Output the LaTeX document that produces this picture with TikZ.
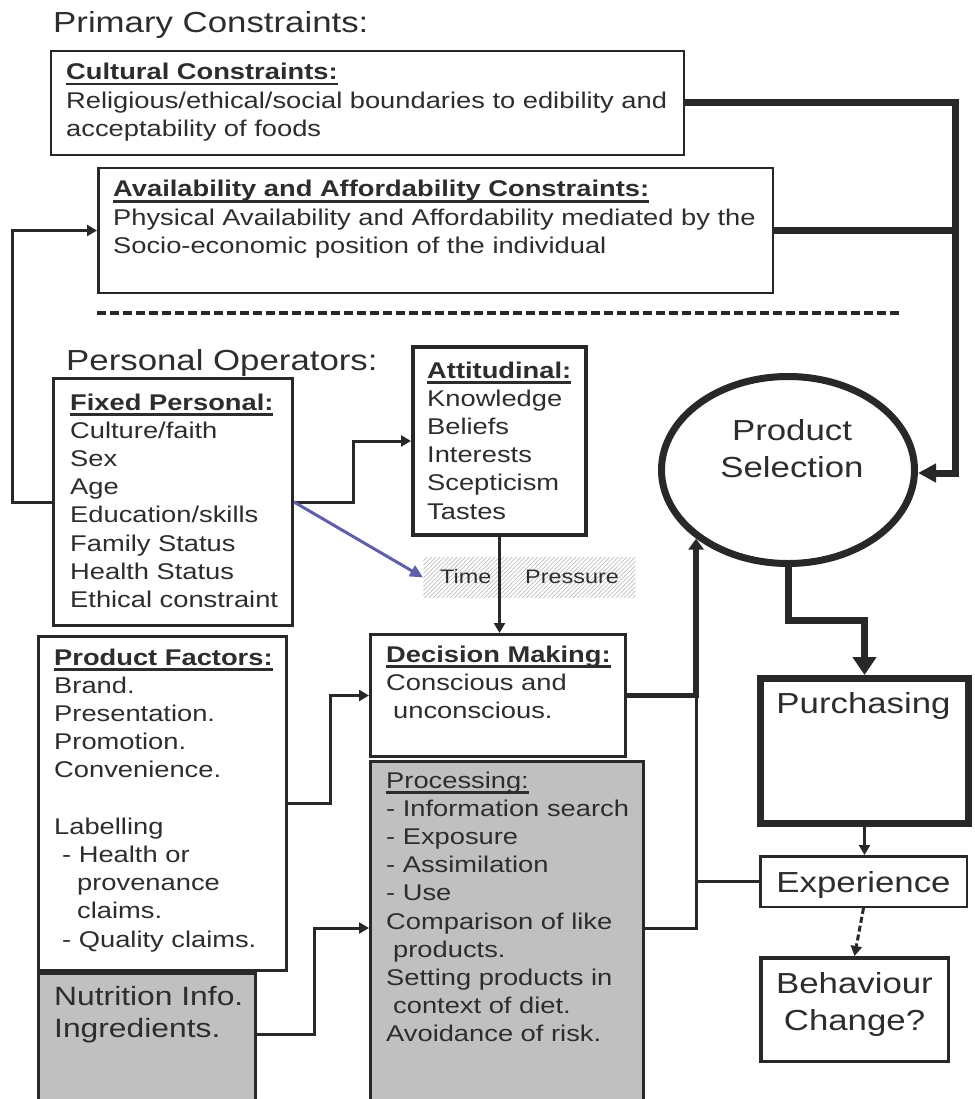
\documentclass[tikz,border=0pt]{standalone}
\usepackage{fontspec}
\setmainfont{Liberation Sans}[FakeStretch=1.2]
\usetikzlibrary{arrows.meta,patterns.meta,shapes.geometric}
\definecolor{ink}{RGB}{40,40,40}
\definecolor{txtc}{RGB}{45,45,45}
\definecolor{procgray}{RGB}{192,192,192}
\definecolor{blueline}{RGB}{96,96,170}
\newcommand\bodyfs{\fontsize{22.75}{28.2}\selectfont}
\newcommand\bigfs{\fontsize{29}{37}\selectfont}
\newcommand\nutfs{\fontsize{26.5}{32}\selectfont}
\newcommand\tpfs{\fontsize{19.5}{24}\selectfont}
\newcommand\myul[1]{\setbox0=\hbox{#1}\rlap{\rule[-5.5pt]{\wd0}{2.3pt}}\box0}
\newcommand\lines[1]{\begin{tabular}[t]{@{}l@{}}#1\end{tabular}}
\begin{document}
\begin{tikzpicture}[x=1pt,y=-1pt,
  box/.style={draw=ink, line width=#1, inner sep=0pt, anchor=north west, fill=white},
  box/.default=2.5pt,
  graybox/.style={box=#1, fill=procgray},
  txt/.style={inner sep=0pt, anchor=base west, text=txtc},
  conn/.style={draw=ink, line width=3pt},
  thk/.style={draw=ink, line width=7pt},
  mid/.style={draw=ink, line width=5.5pt},
  tipS/.style={-{Triangle[length=10pt,width=11pt]}},
  tipM/.style={-{Triangle[length=11pt,width=15pt]}},
  tipL/.style={-{Triangle[length=18pt,width=18pt]}},
  tipXL/.style={-{Triangle[length=18pt,width=23pt]}},
  blueconn/.style={draw=blueline, line width=3pt, -{Triangle[length=13pt,width=12pt]}}
]
\useasboundingbox (0,0) rectangle (974,1099);
\clip (0,0) rectangle (974,1099);
\fill[white] (0,0) rectangle (974,1099);

% ---------- boxes ----------
\node[box=2.2pt, minimum width=632.8pt, minimum height=103.8pt] (cult) at (50,50) {};
\node[box=2.5pt, minimum width=674.5pt, minimum height=124.5pt] (avail) at (97,167) {};
\node[box=3pt, minimum width=239pt, minimum height=247pt] (fixed) at (52,377) {};
\node[box=4pt, minimum width=173pt, minimum height=188pt] (attit) at (411,345) {};
\node[graybox=3pt, minimum width=217pt, minimum height=140pt] (nutr) at (37,972) {};
\node[box=3pt, minimum width=248pt, minimum height=334pt] (prodf) at (37,635) {};
\node[box=3pt, minimum width=255pt, minimum height=122pt] (decis) at (369,633) {};
\node[graybox=3pt, minimum width=273pt, minimum height=352pt] (proc) at (369,760) {};
\node[box=7pt, minimum width=208pt, minimum height=145pt] (purch) at (757,675) {};
\node[box=2.5pt, minimum width=206.5pt, minimum height=50.5pt] (exper) at (759,855) {};
\node[box=3.5pt, minimum width=187.5pt, minimum height=103.5pt] (behav) at (759,956) {};
\node[draw=ink, ellipse, line width=7pt, inner sep=0pt, fill=white,
      minimum width=253pt, minimum height=187pt] (psel) at (788,470) {};
\node[inner sep=0pt, anchor=north west, minimum width=212pt, minimum height=40pt,
      pattern={Lines[angle=45,distance=3pt,line width=0.7pt]}, pattern color=black!25] (tp) at (423,557) {};

% ---------- texts ----------
\node[txt, font=\bigfs] (ptitle) at (53,33) {Primary Constraints:};
\node[txt, font=\bigfs] (otitle) at (66,370) {Personal Operators:};
\node[txt, font=\bodyfs] (cultT) at (66,80) {\lines{\myul{\textbf{Cultural Constraints:}}\\
  Religious/ethical/social boundaries to edibility and\\acceptability of foods}};
\node[txt, font=\bodyfs] (availT) at (113,197) {\lines{\myul{\textbf{Availability and Affordability Constraints:}}\\
  Physical Availability and Affordability mediated by the\\Socio-economic position of the individual}};
\node[txt, font=\bodyfs] (fixedT) at (70,410) {\lines{\myul{\textbf{Fixed Personal:}}\\Culture/faith\\Sex\\Age\\
  Education/skills\\Family Status\\Health Status\\Ethical constraint}};
\node[txt, font=\bodyfs] (attitT) at (427,378) {\lines{\myul{\textbf{Attitudinal:}}\\Knowledge\\Beliefs\\Interests\\Scepticism\\Tastes}};
\node[txt, font=\bodyfs] (prodfT) at (54,665) {\lines{\myul{\textbf{Product Factors:}}\\Brand.\\Presentation.\\Promotion.\\Convenience.\\ \\
  Labelling\\\hspace{8pt}- Health or\\\hspace{23pt}provenance\\\hspace{23pt}claims.\\\hspace{8pt}- Quality claims.}};
\node[txt, font=\nutfs] (nutrT) at (54,1005) {\begin{tabular}[t]{@{}l@{}}Nutrition Info.\\Ingredients.\end{tabular}};
\node[txt, font=\bodyfs] (decisT) at (386,662) {\lines{\myul{\textbf{Decision Making:}}\\Conscious and\\\hspace{7pt}unconscious.}};
\node[txt, font=\bodyfs] (procT) at (386,788) {\lines{\myul{Processing:}\\- Information search\\- Exposure\\- Assimilation\\- Use\\
  Comparison of like\\\hspace{7pt}products.\\Setting products in\\\hspace{7pt}context of diet.\\Avoidance of risk.}};
\node[txt, anchor=base, font=\bigfs] (pselT) at (792,440) {\begin{tabular}[t]{@{}c@{}}Product\\Selection\end{tabular}};
\node[txt, anchor=base, font=\bigfs] (purchT) at (863.5,713) {Purchasing};
\node[txt, anchor=base, font=\bigfs] (experT) at (863.5,892) {Experience};
\node[txt, anchor=base, font=\bigfs] (behavT) at (854.5,993) {\begin{tabular}[t]{@{}c@{}}Behaviour\\Change?\end{tabular}};
\node[txt, font=\tpfs] (timeT) at (440,583) {Time};
\node[txt, font=\tpfs] (presT) at (525,583) {Pressure};

% ---------- separator ----------
\coordinate (dashL) at (97,313);
\coordinate (dashR) at (902,313);
\draw[draw=ink, line width=3.8pt, dash pattern=on 9pt off 4pt] (dashL) -- (dashR);

% ---------- connectors ----------
\draw[conn, tipS] (fixed.west) -- ++(-40,0) |- (avail.west);
\draw[conn, tipS] (fixed.east) -- ++(59,0) |- (attit.west);
\draw[blueconn] (fixed.east) -- (tp.west);
\draw[conn, tipS] (attit.south) -- (attit.south |- decis.north);
\draw[conn, tipS] (prodf.east) -- ++(42,0) |- (decis.west);
\draw[conn, tipS] ([yshift=9pt]nutr.east) -- ++(57,0) |- ([yshift=9.5pt]proc.west);
\draw[mid, tipM] (decis.east) -| (psel.south west);
\coordinate (fbtop) at (psel.south west |- decis.east);
\draw[conn] ([yshift=9.5pt]proc.east) -| (fbtop);
\draw[conn] (exper.west) -- (exper.west -| fbtop);
\draw[thk, tipL] (cult.east) -- ++(270,0) |- ([yshift=-3pt]psel.east);
\draw[thk] (avail.east) -- ++(181,0);
\draw[thk, tipXL] (psel.south) -- ++(0,53) -| (purch.north);
\draw[conn, tipS] (purch.south) -- (purch.south |- exper.north);
\draw[conn, dash pattern=on 6pt off 3pt, tipS] (exper.south) -- (behav.north);
\end{tikzpicture}
\end{document}
